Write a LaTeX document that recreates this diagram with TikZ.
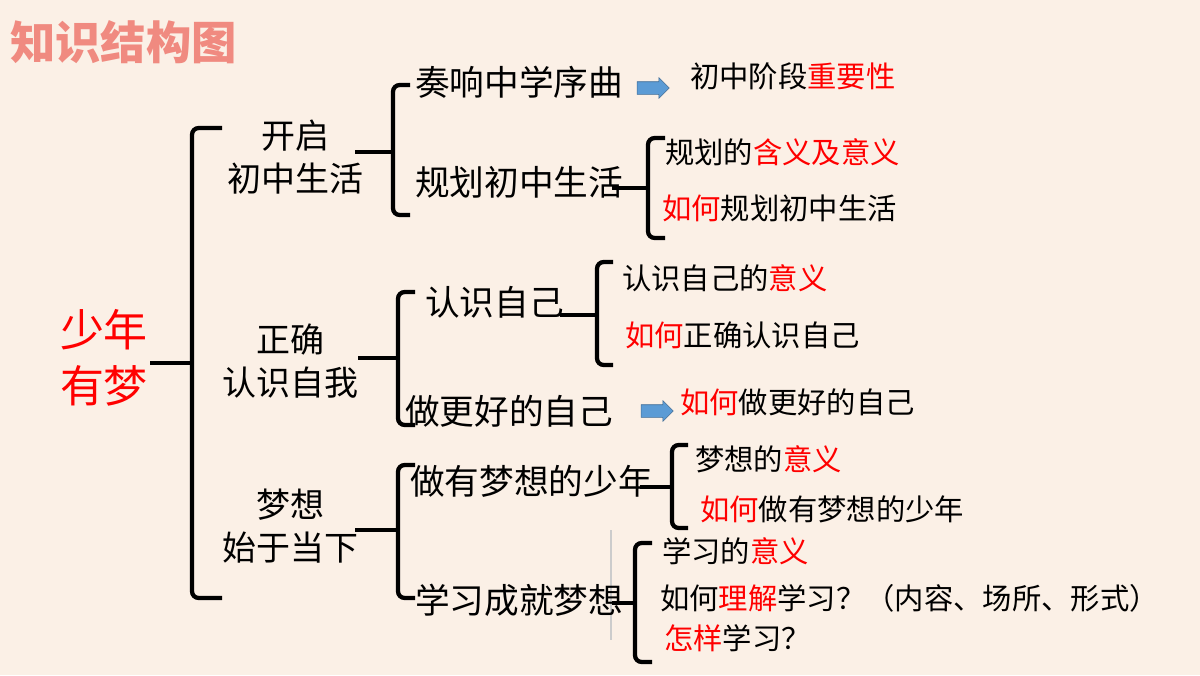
\documentclass[tikz,border=0pt]{standalone}
\usepackage{fontspec}
\setmainfont{Noto Sans CJK SC}
\usetikzlibrary{shapes.arrows}
\definecolor{bg}{HTML}{FBF0E6}
\definecolor{ttl}{HTML}{F08A80}
\definecolor{arr}{HTML}{5B9BD5}
\begin{document}
\begin{tikzpicture}[x=0.75pt,y=-0.75pt,
  br/.style={line width=3.2pt,rounded corners=5pt},
  mid/.style={font=\fontsize{26}{30}\selectfont,anchor=west,inner sep=0pt},
  midc/.style={font=\fontsize{25.5}{32}\selectfont,align=center,inner sep=0pt},
  sm/.style={font=\fontsize{22}{26}\selectfont,anchor=west,inner sep=0pt},
  blk/.style={single arrow,fill=arr,draw=arr!70!black,line width=0.4pt,minimum height=24pt,text width=9pt,text height=9pt,text depth=0pt,inner sep=0pt,single arrow head extend=3pt}]
\fill[bg] (0,0) rectangle (1200,675);
\newcommand\brc[6]{\draw[br] (#5,#2) -- (#1,#2) -- (#1,#3) -- (#5,#3);
  \draw[br,rounded corners=0pt] (#6,#4) -- (#1,#4);}
% x, top, bottom, mid, hookx, stubx
\brc{192}{128}{598}{363}{222}{150}
\brc{393}{85}{215}{152}{410}{355}
\brc{648}{138}{238}{188}{665}{612}
\brc{597}{262}{365}{315}{613}{560}
\brc{398}{292}{425}{358}{415}{358}
\brc{672}{445}{528}{487}{688}{640}
\brc{398}{465}{598}{530}{415}{355}
\brc{635}{543}{662}{603}{652}{610}
\draw[gray!40,line width=0.8pt] (611,530) -- (611,640);
\node[font=\fontsize{34}{38}\selectfont\bfseries,text=ttl,anchor=west,inner sep=0pt] (t) at (10,42) {知识结构图};
\node[font=\fontsize{33}{42}\selectfont,text=red,align=center,inner sep=0pt] (r) at (104,358) {少年\\有梦};
\node[midc] (a) at (295,157) {开启\\初中生活};
\node[midc] (b) at (290,361) {正确\\认识自我};
\node[midc] (c) at (290,526) {梦想\\始于当下};
\node[mid] (a1) at (415,82) {奏响中学序曲};
\node[mid] (a2) at (415,182) {规划初中生活};
\node[mid] (b1) at (425,302) {认识自己};
\node[mid] (b2) at (405,411) {做更好的自己};
\node[mid] (c1) at (410,481) {做有梦想的少年};
\node[mid] (c2) at (415,600) {学习成就梦想};
\node[blk] (ar1) at (650,88) {};
\node[blk] (ar2) at (654,411) {};
\node[sm] (s1) at (690,76) {初中阶段\textcolor{red}{重要性}};
\node[sm] (s2) at (665,152) {规划的\textcolor{red}{含义及意义}};
\node[sm] (s3) at (662,208) {\textcolor{red}{如何}规划初中生活};
\node[sm] (s4) at (622,278) {认识自己的\textcolor{red}{意义}};
\node[sm] (s5) at (625,335) {\textcolor{red}{如何}正确认识自己};
\node[sm] (s6) at (680,402) {\textcolor{red}{如何}做更好的自己};
\node[sm] (s7) at (695,459) {梦想的\textcolor{red}{意义}};
\node[sm] (s8) at (700,509) {\textcolor{red}{如何}做有梦想的少年};
\node[sm] (s9) at (662,551) {学习的\textcolor{red}{意义}};
\node[sm] (s10) at (660,598) {如何\textcolor{red}{理解}学习？（内容、场所、形式）};
\node[sm] (s11) at (664,638) {\textcolor{red}{怎样}学习？};
\end{tikzpicture}
\end{document}
